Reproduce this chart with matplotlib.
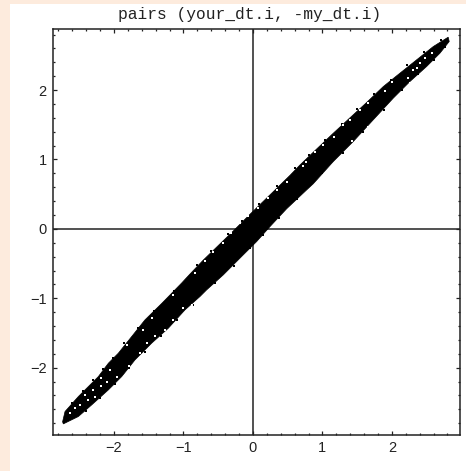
import numpy as np
import matplotlib
matplotlib.use('Agg')
import matplotlib.pyplot as plt
from matplotlib.patches import Rectangle

# outline of the dense cloud
upper_x = [-2.74, -2.705, -2.513, -2.369, -2.225, -2.081, -1.938, -1.746, -1.554, -1.314, -1.026, -0.906, -0.715, -0.427, -0.283, -0.043, 0.245, 0.532, 0.676, 0.916, 1.156, 1.396, 1.635, 1.875, 2.115, 2.355, 2.595, 2.81]
upper_y = [-2.78, -2.632, -2.416, -2.272, -2.128, -1.936, -1.792, -1.552, -1.311, -1.075, -0.78, -0.65, -0.45, -0.17, -0.03, 0.21, 0.49, 0.77, 0.92, 1.15, 1.378, 1.60, 1.82, 2.05, 2.243, 2.435, 2.627, 2.762]
lower_x = [-2.729, -2.513, -2.321, -2.081, -1.889, -1.698, -1.458, -1.218, -0.978, -0.763, -0.667, -0.427, -0.14, 0.053, 0.245, 0.485, 0.773, 0.868, 1.156, 1.443, 1.731, 2.019, 2.259, 2.499, 2.691, 2.825]
lower_y = [-2.81, -2.704, -2.536, -2.32, -2.128, -1.888, -1.647, -1.431, -1.167, -0.975, -0.879, -0.663, -0.375, -0.183, 0.033, 0.29, 0.562, 0.65, 0.97, 1.258, 1.571, 1.883, 2.123, 2.339, 2.531, 2.70]

# stray points sticking out of the band
stray_x = [-0.80, -0.60, -0.36, -0.16, 0.08, 0.35, 0.60, 0.80, 1.03, 1.28, 1.50, 1.74, 1.98, 2.22, 2.46, 2.70, -1.14, -1.43, -1.65, -1.85, -2.02, -2.16, -2.30, -2.44, -2.60,
           -2.40, -2.20, -1.98, -1.78, -1.56, -1.33, -1.09, -0.87, -0.55, -0.28, -0.04, 0.14, 0.37, 0.63, 1.00, 1.30, 1.58, 1.88, 2.14, 2.38, 2.60, 2.76]
stray_y = [-0.52, -0.32, -0.08, 0.12, 0.36, 0.62, 0.88, 1.07, 1.28, 1.51, 1.73, 1.94, 2.15, 2.36, 2.55, 2.72, -0.90, -1.18, -1.43, -1.65, -1.86, -2.02, -2.18, -2.33, -2.51,
           -2.63, -2.44, -2.23, -2.01, -1.78, -1.55, -1.31, -1.09, -0.78, -0.53, -0.27, -0.09, 0.16, 0.43, 0.80, 1.10, 1.40, 1.72, 2.00, 2.23, 2.43, 2.62]

# white gaps between the points
gap_x = [2.475, 2.57, 2.40, 2.31, 2.235, 2.355, 2.26, 2.0, 1.90, 1.66, 1.54, 1.40, 1.30, 1.16, 1.01, 0.89, 0.77, 0.72, 1.42, 1.66,
         0.485, 0.34, 0.22, 0.077, -0.067, -0.187, -0.31, -0.43, -0.57, -0.69, -0.83,
         -2.63, -2.56, -2.49, -2.42, -2.37, -2.30, -2.27, -2.18, -2.18, -2.10, -1.96, -2.06, -1.79, -1.63, -1.53, -1.41, -1.27, -1.15, -1.00, -0.88, -1.46, -1.15, -1.58, -1.82]
gap_y = [2.46, 2.53, 2.39, 2.29, 2.17, 2.315, 2.10, 2.12, 1.98, 1.81, 1.715, 1.57, 1.50, 1.33, 1.21, 1.11, 0.97, 0.90, 1.26, 1.47,
         0.68, 0.56, 0.44, 0.30, 0.18, 0.08, -0.06, -0.21, -0.33, -0.47, -0.64,
         -2.66, -2.58, -2.54, -2.39, -2.46, -2.32, -2.42, -2.15, -2.27, -2.20, -2.13, -2.03, -1.98, -1.79, -1.65, -1.55, -1.45, -1.31, -1.14, -1.10, -1.29, -0.95, -1.45, -1.67]

ticks = [-2, -1, 0, 1, 2]
tick_labels = ['\u22122', '\u22121', '0', '1', '2']
minor = np.arange(-2.8, 3.0, 0.2)

fig = plt.figure(figsize=(4.66, 4.71), dpi=100, facecolor='white')
peach = '#fdebdd'
fig.add_artist(Rectangle((0, 0), 10 / 466, 1, transform=fig.transFigure, color=peach, lw=0))
fig.add_artist(Rectangle((0, 1 - 4 / 471), 1, 4 / 471, transform=fig.transFigure, color=peach, lw=0))

ax = fig.add_axes([53 / 466, 1 - 435 / 471, 407 / 466, 406 / 471])
ax.set_xlim(-2.878, 2.98)
ax.set_ylim(-2.97, 2.88)

ax.fill(upper_x + lower_x[::-1], upper_y + lower_y[::-1], color='black', lw=0.5, zorder=2)
ax.scatter(stray_x, stray_y, s=2.6, marker='s', color='black', lw=0, zorder=3)
ax.scatter(gap_x, gap_y, s=2.2, marker='s', color='white', lw=0, zorder=4)
ax.axhline(0, color='#222222', lw=1.1, zorder=1)
ax.axvline(0, color='#222222', lw=1.1, zorder=1)

for side in ax.spines.values():
    side.set_linewidth(1.1)
    side.set_color('#222222')

ax.set_xticks(ticks)
ax.set_xticklabels(tick_labels)
ax.set_yticks(ticks)
ax.set_yticklabels(tick_labels)
ax.set_xticks([m for m in minor if abs(m - round(m)) > 0.01], minor=True)
ax.set_yticks([m for m in minor if abs(m - round(m)) > 0.01], minor=True)
ax.tick_params(which='major', direction='in', top=True, right=True, length=3.2, width=0.9, color='#222222', pad=4.5)
ax.tick_params(which='minor', direction='in', top=True, right=True, length=1.6, width=0.9, color='#222222')
for lab in ax.get_xticklabels() + ax.get_yticklabels():
    lab.set_fontfamily('Liberation Sans')
    lab.set_fontsize(10.5)
    lab.set_color('#222222')

fig.text(249.5 / 466, 1 - 14 / 471, 'pairs (your_dt.i, -my_dt.i)', family='Liberation Mono', fontsize=11.7,
         color='#222222', ha='center', va='center')

fig.savefig('out.png', dpi=100)
